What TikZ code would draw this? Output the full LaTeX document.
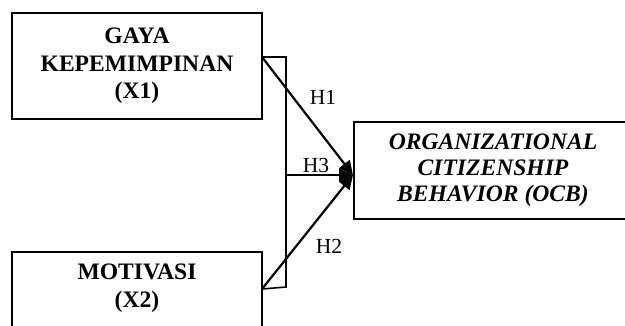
\documentclass[tikz,border=0pt]{standalone}
\usepackage{fontspec}
\setmainfont{Liberation Serif}
\usetikzlibrary{arrows.meta}
\begin{document}
\begin{tikzpicture}[x=1pt,y=-1pt,
  varbox/.style={draw,line width=2pt,inner sep=0pt},
  boxtext/.style={align=center,font=\fontsize{23.6}{27.5}\selectfont\bfseries,inner sep=0pt},
  hlabel/.style={font=\fontsize{21.5}{23}\selectfont,inner sep=0pt},
  conn/.style={line width=2.2pt,-{Triangle[length=14pt,width=13pt]}},
  bracketline/.style={line width=1.6pt}]
\clip (0,0) rectangle (625,325);
\fill[white] (0,0) rectangle (625,325);
% boxes
\node[varbox,minimum width=250pt,minimum height=106pt,boxtext] (x1) at (137,66) {GAYA\\KEPEMIMPINAN\\(X1)};
\node[varbox,minimum width=250pt,minimum height=88pt] (x2) at (137,296) {};
\node[boxtext] (x2t) at (137,288) {MOTIVASI\\(X2)};
\node[varbox,minimum width=278pt,minimum height=97pt,boxtext,font=\fontsize{23.6}{26}\selectfont\bfseries\itshape] (ocb) at (493,170.5) {ORGANIZATIONAL\\CITIZENSHIP\\BEHAVIOR (OCB)};
% connection points
\coordinate (p1) at (262,57);
\coordinate (p2) at (262,289);
\coordinate (q1) at (286,57);
\coordinate (q2) at (286,287);
\coordinate (q3) at (286,175);
\coordinate (tip) at (353,175);
% bracket
\draw[bracketline] (p1) -- (q1) -- (q2) -- (p2);
% arrows
\draw[conn] (p1) -- (tip);
\draw[conn] (q3) -- (tip);
\draw[conn] (p2) -- (tip);
% labels
\node[hlabel] (h1) at (323,97) {H1};
\node[hlabel] (h3) at (316,165) {H3};
\node[hlabel] (h2) at (329,246) {H2};
\end{tikzpicture}
\end{document}
